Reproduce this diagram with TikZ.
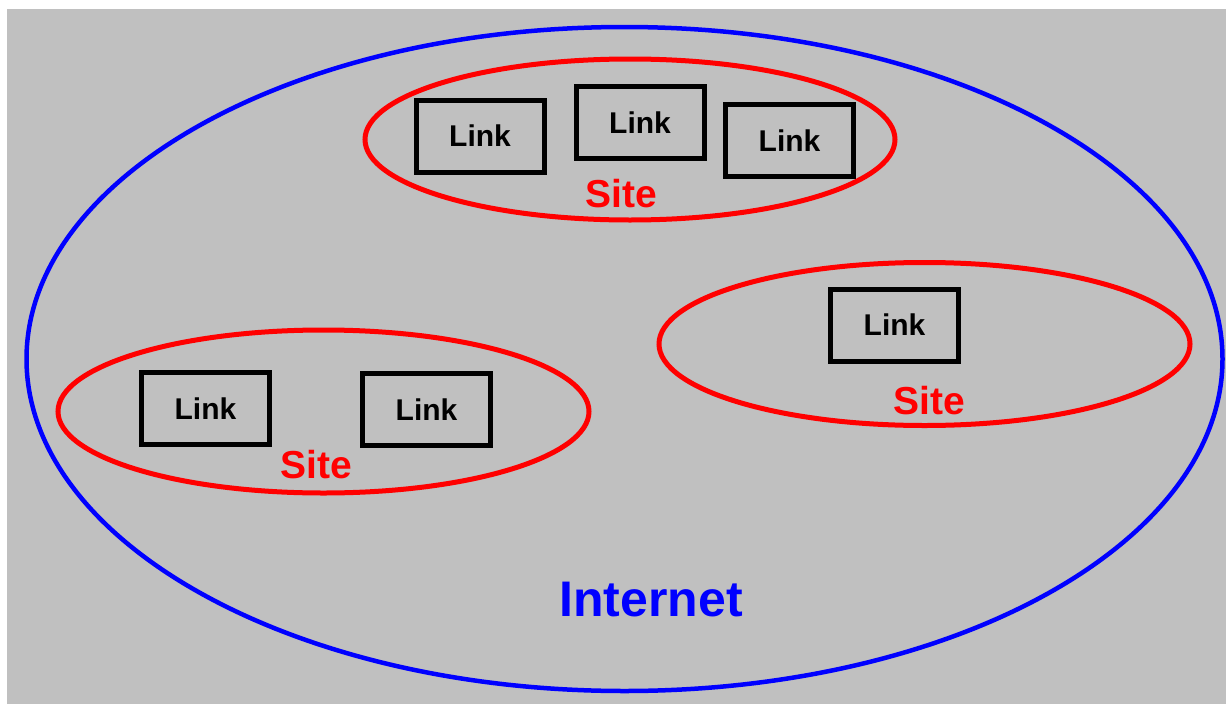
\documentclass[tikz,border=0pt]{standalone}
\usepackage{fontspec}
\setmainfont{Liberation Sans}
\definecolor{bggray}{RGB}{192,192,192}
\definecolor{netblue}{RGB}{0,0,255}
\definecolor{sitered}{RGB}{255,0,0}
\tikzset{
  internet/.style={draw=netblue, line width=4.5pt},
  site/.style={draw=sitered, line width=5pt},
  linkbox/.style={draw=black, line width=5pt, minimum width=128pt, minimum height=72pt,
    inner sep=0pt, font=\fontsize{30}{33}\selectfont\bfseries},
  sitelabel/.style={text=sitered, font=\fontsize{39}{42}\selectfont\bfseries},
  netlabel/.style={text=netblue, font=\fontsize{50}{54}\selectfont\bfseries}
}
\begin{document}
\begin{tikzpicture}[x=1pt,y=-1pt]
  % canvas and grey field
  \fill[white] (0,0) rectangle (1226,704);
  \fill[bggray] (7,9) rectangle (1226,704);
  \useasboundingbox (0,0) rectangle (1226,704);

  % the Internet
  \draw[internet] (624.5,359) ellipse [x radius=598, y radius=332];
  \node[netlabel] (net) at (651,600) {Internet};

  % top site
  \draw[site] (630,139.5) ellipse [x radius=265, y radius=80.5];
  \node[linkbox] (t1) at (480,136) {Link};
  \node[linkbox] (t2) at (640,122.5) {Link};
  \node[linkbox] (t3) at (789.5,140.5) {Link};
  \node[sitelabel] (s1) at (621,194) {Site};

  % right site
  \draw[site] (924.5,344) ellipse [x radius=265.5, y radius=81.5];
  \node[linkbox] (r1) at (894.5,325) {Link};
  \node[sitelabel] (s2) at (929,401) {Site};

  % left site
  \draw[site] (323.5,411.5) ellipse [x radius=265.5, y radius=81.5];
  \node[linkbox] (l1) at (205.5,408.5) {Link};
  \node[linkbox] (l2) at (426.5,409.5) {Link};
  \node[sitelabel] (s3) at (316,465) {Site};
\end{tikzpicture}
\end{document}
